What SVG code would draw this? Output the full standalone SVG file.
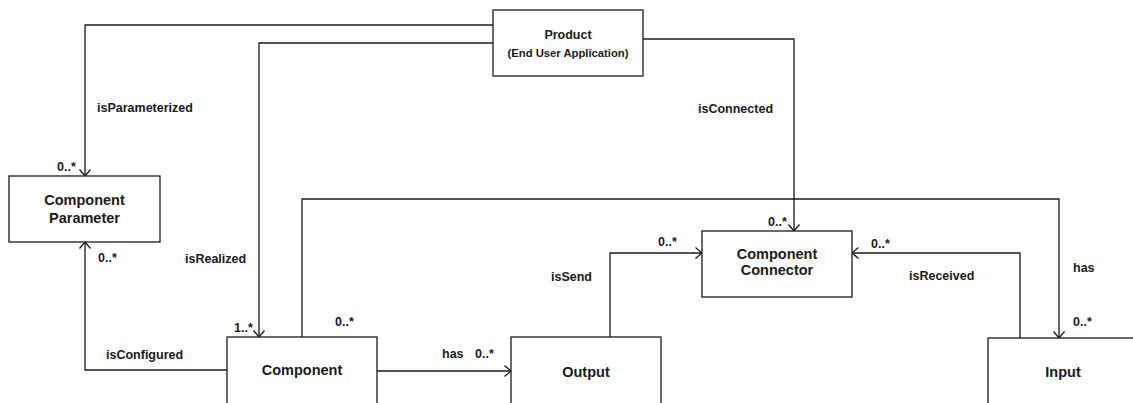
<svg xmlns="http://www.w3.org/2000/svg" width="1133" height="403" viewBox="0 0 1133 403">
  <style>
    .box { fill: #ffffff; stroke: #1a1a1a; stroke-width: 1.3; }
    .conn { fill: none; stroke: #1a1a1a; stroke-width: 1.3; }
    .name { font-family: "Liberation Sans", Arial, sans-serif; font-weight: bold; font-size: 14.5px; fill: #1a1a1a; text-anchor: middle; }
    .title { font-family: "Liberation Sans", Arial, sans-serif; font-weight: bold; fill: #1a1a1a; text-anchor: middle; }
    .lbl { font-family: "Liberation Sans", Arial, sans-serif; font-weight: bold; font-size: 12.5px; fill: #1a1a1a; }
  </style>
  <defs>
    <!-- open V arrowhead used on every association end -->
    <marker id="open" viewBox="0 0 12 12" refX="12" refY="6" markerWidth="12" markerHeight="12" markerUnits="userSpaceOnUse" orient="auto">
      <path d="M5.5,0.5 L12,6 L5.5,11.5" fill="none" stroke="#1a1a1a" stroke-width="1.3"/>
    </marker>
  </defs>
  <rect width="1133" height="403" fill="#ffffff"/>

  <g id="connectors">
    <!-- isParameterized -->
    <path class="conn" d="M493,25 H85 V176" marker-end="url(#open)"/>
    <!-- isRealized -->
    <path class="conn" d="M493,43 H259 V337" marker-end="url(#open)"/>
    <!-- isConnected -->
    <path class="conn" d="M643,39 H794 V231" marker-end="url(#open)"/>
    <!-- Component has Input -->
    <path class="conn" d="M302,337 V199 H1059 V338" marker-end="url(#open)"/>
    <!-- isConfigured -->
    <path class="conn" d="M227,370 H85 V242" marker-end="url(#open)"/>
    <!-- Component has Output -->
    <path class="conn" d="M377,371 H511" marker-end="url(#open)"/>
    <!-- isSend -->
    <path class="conn" d="M610,337 V253 H702" marker-end="url(#open)"/>
    <!-- isReceived -->
    <path class="conn" d="M1020,338 V253 H852" marker-end="url(#open)"/>

    <text class="lbl" x="97" y="112">isParameterized</text>
    <text class="lbl" x="57" y="171">0..*</text>
    <text class="lbl" x="98" y="262">0..*</text>
    <text class="lbl" x="185" y="263">isRealized</text>
    <text class="lbl" x="234" y="332">1..*</text>
    <text class="lbl" x="335" y="326">0..*</text>
    <text class="lbl" x="106" y="359">isConfigured</text>
    <text class="lbl" x="442" y="358">has</text>
    <text class="lbl" x="475" y="358">0..*</text>
    <text class="lbl" x="551" y="281">isSend</text>
    <text class="lbl" x="658" y="246">0..*</text>
    <text class="lbl" x="768" y="226">0..*</text>
    <text class="lbl" x="698" y="113">isConnected</text>
    <text class="lbl" x="871" y="248">0..*</text>
    <text class="lbl" x="909" y="280">isReceived</text>
    <text class="lbl" x="1073" y="272">has</text>
    <text class="lbl" x="1073" y="326">0..*</text>
  </g>

  <g id="product">
    <rect class="box" x="493" y="10" width="150" height="66"/>
    <text class="title" x="568" y="38.5" font-size="12.5">Product</text>
    <text class="title" x="568" y="57" font-size="11" textLength="121" lengthAdjust="spacingAndGlyphs">(End User Application)</text>
  </g>

  <g id="component-parameter">
    <rect class="box" x="9" y="176" width="151" height="66"/>
    <text class="name" x="84.5" y="205">Component</text>
    <text class="name" x="84.5" y="223">Parameter</text>
  </g>

  <g id="component-connector">
    <rect class="box" x="702" y="231" width="150" height="66"/>
    <text class="name" x="777" y="259">Component</text>
    <text class="name" x="777" y="275">Connector</text>
  </g>

  <g id="component">
    <rect class="box" x="227" y="337" width="150" height="80"/>
    <text class="name" x="302" y="375">Component</text>
  </g>

  <g id="output">
    <rect class="box" x="511" y="337" width="150" height="80"/>
    <text class="name" x="586" y="377" font-size="13.5">Output</text>
  </g>

  <g id="input">
    <rect class="box" x="988" y="338" width="150" height="80"/>
    <text class="name" x="1063" y="377">Input</text>
  </g>
</svg>
